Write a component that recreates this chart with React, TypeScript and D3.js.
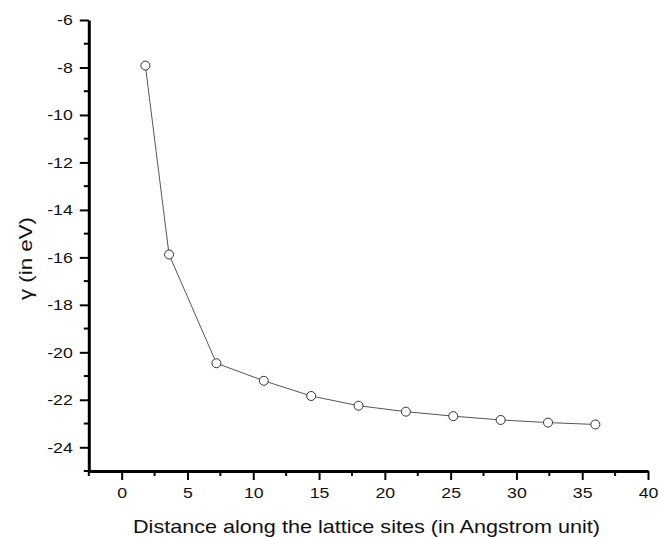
import React, { useRef, useEffect } from 'react'
import * as d3 from 'd3'

// distance along lattice (Angstrom) and gamma (eV)
const distance = [1.8, 3.6, 7.2, 10.8, 14.4, 18, 21.6, 25.2, 28.8, 32.4, 36]
const gamma = [-7.92, -15.88, -20.46, -21.2, -21.84, -22.25, -22.5, -22.69, -22.85, -22.96, -23.04]
const xTicks = [0, 5, 10, 15, 20, 25, 30, 35, 40]
const yTicks = [-6, -8, -10, -12, -14, -16, -18, -20, -22, -24]

const App = () => {
  const ref = useRef<SVGSVGElement>(null)

  useEffect(() => {
    const svg = d3.select(ref.current)
    svg.selectAll('*').remove()

    const font = 'Liberation Sans, Arial, Helvetica, sans-serif'

    const xScale = d3.scaleLinear()
      .domain([-2.5, 40])
      .range([88.8, 648])

    const yScale = d3.scaleLinear()
      .domain([-25, -6])
      .range([471, 20])

    // minor ticks first
    const xMinor = d3.range(-2.5, 40.1, 2.5).filter(d => !xTicks.includes(d))
    const yMinor = d3.range(-25, -5.9, 1).filter(d => !yTicks.includes(d))

    const xAxis = svg.append('g')
      .attr('transform', `translate(0, ${yScale(-25)})`)

    xAxis.selectAll('.minor')
      .data(xMinor)
      .join('line')
        .attr('x1', d => xScale(d))
        .attr('x2', d => xScale(d))
        .attr('y1', 0)
        .attr('y2', 5)
        .attr('stroke', 'black')
        .attr('stroke-width', 2)

    xAxis.call(d3.axisBottom(xScale)
      .tickValues(xTicks)
      .tickSize(9)
      .tickSizeOuter(0)
      .tickPadding(7)
      .tickFormat(d3.format('d')))

    const yAxis = svg.append('g')
      .attr('transform', `translate(${xScale(-2.5)}, 0)`)

    yAxis.selectAll('.minor')
      .data(yMinor)
      .join('line')
        .attr('x1', 0)
        .attr('x2', -5)
        .attr('y1', d => yScale(d))
        .attr('y2', d => yScale(d))
        .attr('stroke', 'black')
        .attr('stroke-width', 2)

    yAxis.call(d3.axisLeft(yScale)
      .tickValues(yTicks)
      .tickSize(9)
      .tickSizeOuter(0)
      .tickPadding(7)
      .tickFormat(d => `${d}`.replace('−', '-')))

    svg.selectAll('.domain')
      .attr('stroke', 'black')
      .attr('stroke-width', 3)
    svg.selectAll('.tick line')
      .attr('stroke', 'black')
      .attr('stroke-width', 2)
    svg.selectAll<SVGTextElement, unknown>('.tick text')
      .attr('fill', '#111')
      .style('font-family', font)
      .style('font-size', '15px')
      .each(function () {
        // the original glyphs look a bit wider than Arial
        const w = this.getComputedTextLength()
        d3.select(this)
          .attr('textLength', w * 1.18)
          .attr('lengthAdjust', 'spacingAndGlyphs')
      })

    const line = d3.line<number>()
      .x((_, i) => xScale(distance[i]))
      .y(d => yScale(d))

    svg.append('path')
      .attr('d', line(gamma))
      .attr('fill', 'none')
      .attr('stroke', '#555')
      .attr('stroke-width', 1)

    svg.selectAll('.pt')
      .data(gamma)
      .join('circle')
        .attr('cx', (_, i) => xScale(distance[i]))
        .attr('cy', d => yScale(d))
        .attr('r', 4.5)
        .attr('fill', 'white')
        .attr('stroke', '#333')
        .attr('stroke-width', 1)

    svg.append('text')
      .attr('x', 133)
      .attr('y', 533)
      .style('font-family', font)
      .style('font-size', '19px')
      .attr('fill', '#111')
      .attr('textLength', 467)
      .attr('lengthAdjust', 'spacingAndGlyphs')
      .text('Distance along the lattice sites (in Angstrom unit)')

    svg.append('text')
      .attr('transform', `translate(32, 300) rotate(-90)`)
      .style('font-family', font)
      .style('font-size', '19px')
      .attr('fill', '#111')
      .attr('textLength', 83)
      .attr('lengthAdjust', 'spacingAndGlyphs')
      .text('γ (in eV)')
  }, [])

  return (
    <svg ref={ref} width={659} height={537}
      style={{ position: 'absolute', left: 0, top: 0, background: 'white' }} />
  )
}

export default App
